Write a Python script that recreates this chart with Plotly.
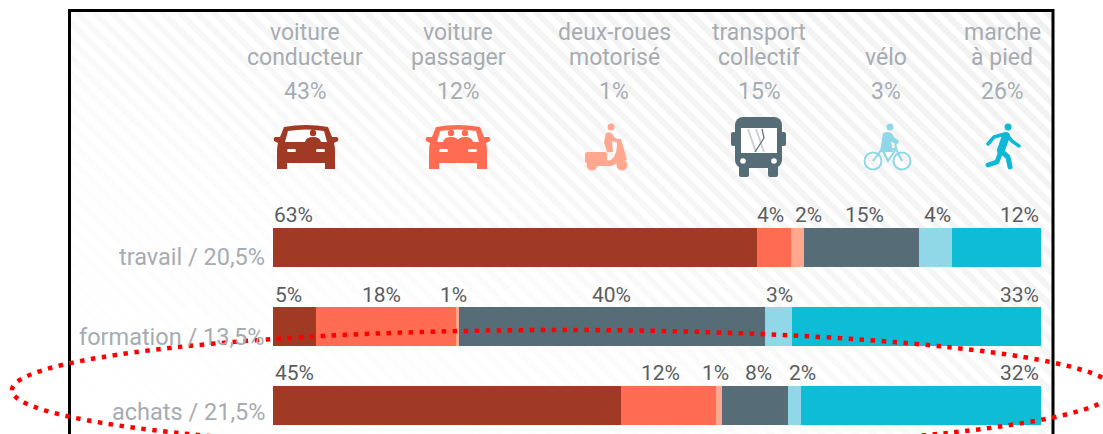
import base64
import plotly.graph_objects as go

W, H = 1103, 434

modes = ["voiture<br>conducteur", "voiture<br>passager", "deux-roues<br>motorisé",
         "transport<br>collectif", "vélo", "marche<br>à pied"]
mode_share = ["43%", "12%", "1%", "15%", "3%", "26%"]
purposes = ["travail / 20,5%", "formation / 13,5%", "achats / 21,5%"]
travail = [63.0, 4.5, 1.7, 14.9, 4.3, 11.6]
formation = [5.6, 18.2, 0.4, 39.9, 3.5, 32.4]
achats = [45.3, 12.4, 0.8, 8.6, 1.7, 31.2]
travail_labels = ["63%", "4%", "2%", "15%", "4%", "12%"]
formation_labels = ["5%", "18%", "1%", "40%", "3%", "33%"]
achats_labels = ["45%", "12%", "1%", "8%", "2%", "32%"]

colors = ["#a03a25", "#ff6c52", "#ffa78f", "#566c77", "#90d8e8", "#0fbcd6"]
series = [travail, formation, achats]
series_labels = [travail_labels, formation_labels, achats_labels]

# layout tuning (pixels in the 1103x434 page)
header_x = [305, 458, 614, 759, 886, 1002]
label_x = [[293, 770, 808, 864, 937, 1019],
           [288, 381, 453, 611, 779, 1019],
           [294, 660, 715, 758, 802, 1019]]
label_y = [215, 295, 373]
row_label_y = [257, 337, 412]


def car(cx, top, color, heads):
    people = "".join(
        f'<circle cx="{hx}" cy="8" r="3.2" fill="{color}"/>'
        f'<path d="M{hx-8},17 Q{hx-7},12 {hx},12 Q{hx+7},12 {hx+8},17Z" fill="{color}"/>'
        for hx in heads)
    return (f'<g transform="translate({cx},{top})">'
            f'<path fill="{color}" d="M-22,2 Q0,-2 22,2 L26,12 H31 Q33,13 32,16 L28,18 Q29,22 29,26 V44 H19 V38 H-19 V44 H-29 V26 Q-29,22 -28,18 L-32,16 Q-33,13 -31,12 H-26 Z"/>'
            f'<path fill="#fff" d="M-18,6 Q0,3 18,6 L21,17 H-21 Z"/>{people}'
            '<rect x="-19" y="24" width="9" height="3" rx="1.5" fill="#fff"/>'
            '<rect x="10" y="24" width="9" height="3" rx="1.5" fill="#fff"/></g>')


def background_svg():
    stripes = "".join(
        f'<path d="M{x},0 L{x+700},700" stroke="#f1f1f1" stroke-width="6"/>'
        for x in range(-700, 1200, 17))
    scooter = ('<g fill="#ffa78f" stroke="none">'
               '<circle cx="611" cy="127" r="3.5"/>'
               '<path d="M606,133 Q612,131 614,137 L620,141 L619,143 L612,141 L613,152 L607,152 L604,142Z"/>'
               '<rect x="585" y="152" width="22" height="11" rx="2"/>'
               '<path d="M617,139 L621,139 L627,160 L619,162 L612,166 L596,166 L596,162 L611,160 Q618,155 617,139Z"/>'
               '<circle cx="592" cy="165" r="5.5"/><circle cx="622" cy="165" r="5.5"/></g>')
    bus = ('<g fill="#566c77">'
           '<rect x="735" y="117" width="47" height="51" rx="8"/>'
           '<rect x="731" y="132" width="5" height="14" rx="2"/><rect x="781" y="132" width="5" height="14" rx="2"/>'
           '<rect x="739" y="165" width="10" height="12" rx="2"/><rect x="768" y="165" width="10" height="12" rx="2"/></g>'
           '<rect x="741" y="128" width="36" height="25" fill="#fff"/>'
           '<path d="M748,129 L756,152 M756,129 L764,152" stroke="#ccd2d6" stroke-width="2" fill="none"/>'
           '<path d="M762,129 L764,138 L755,152" stroke="#566c77" stroke-width="1.2" fill="none"/>'
           '<circle cx="743" cy="161" r="2.8" fill="#fff"/><circle cx="774" cy="161" r="2.8" fill="#fff"/>')
    bike = ('<g fill="none" stroke="#90d8e8" stroke-width="2">'
            '<circle cx="873" cy="161" r="8.5"/><circle cx="902" cy="161" r="8.5"/>'
            '<path d="M873,161 L882,149 L896,149 L902,161 M882,149 L888,161 L896,149 M895,140 L896,149"/></g>'
            '<circle cx="890" cy="127" r="3.5" fill="#90d8e8"/>'
            '<path d="M883,133 Q891,130 894,137 L899,141 L898,144 L891,142 L893,152 L880,152 Z" fill="#90d8e8"/>')
    walker = ('<circle cx="1008" cy="127" r="3.5" fill="#0fb9d5"/>'
              '<g fill="none" stroke="#0fb9d5" stroke-linecap="round" stroke-linejoin="round">'
              '<path stroke-width="8" d="M1006,136 L1001,150"/>'
              '<path stroke-width="3.5" d="M1005,134 L994,137 L988,144 M1006,134 L1012,141 L1019,146"/>'
              '<path stroke-width="5" d="M1001,151 L1008,157 L1010,167 M1001,151 L997,162 L988,165"/></g>')
    svg = (f'<svg xmlns="http://www.w3.org/2000/svg" width="{W}" height="{H}" viewBox="0 0 {W} {H}">'
           '<defs><linearGradient id="f" x1="0" y1="1" x2="1" y2="0">'
           '<stop offset="0" stop-color="#fff" stop-opacity="1"/>'
           '<stop offset="0.3" stop-color="#fff" stop-opacity="0.85"/>'
           '<stop offset="0.65" stop-color="#fff" stop-opacity="0.25"/>'
           '<stop offset="1" stop-color="#fff" stop-opacity="0"/></linearGradient>'
           '<clipPath id="c"><rect x="69" y="10" width="984" height="430"/></clipPath></defs>'
           f'<g clip-path="url(#c)">{stripes}'
           '<rect x="69" y="10" width="984" height="430" fill="url(#f)"/></g>'
           + car(306, 125, colors[0], [7]) + car(458, 125, colors[1], [-7, 7])
           + scooter + bus + bike + walker + '</svg>')
    return "data:image/svg+xml;base64," + base64.b64encode(svg.encode()).decode()


px = lambda v: v / W
py = lambda v: 1 - v / H

fig = go.Figure()
for i, mode in enumerate(modes):
    fig.add_trace(go.Bar(
        y=purposes, x=[s[i] for s in series], orientation="h",
        name=mode.replace("<br>", " "), marker=dict(color=colors[i], line_width=0),
        hoverinfo="name+x"))

annotations = []


def text(s, x, y, size, color, anchor="center"):
    annotations.append(dict(text=s, x=px(x), y=py(y), xref="paper", yref="paper",
                            xanchor=anchor, yanchor="middle", showarrow=False,
                            xshift=0, yshift=0, borderpad=0, borderwidth=0,
                            font=dict(family="Roboto", size=size, color=color)))


GREY = "#a6acb2"
DARK = "#5a5d60"
for name, share, x in zip(modes, mode_share, header_x):
    lines = name.split("<br>")
    if len(lines) == 1:
        lines = ["", lines[0]]
    if lines[0]:
        text(lines[0], x, 32, 23, GREY)
    text(lines[1], x, 58, 23, GREY)
    text(share, x, 91, 23, GREY)

for name, y in zip(purposes, row_label_y):
    text(name, 265, y, 23.5, GREY, "right")

for labels, xs, y in zip(series_labels, label_x, label_y):
    for s, x in zip(labels, xs):
        text(s, x, y, 21, DARK)

shapes = [
    dict(type="rect", xref="paper", yref="paper", x0=px(69.5), x1=px(1053), y0=py(450), y1=py(10.5),
         line=dict(color="#000000", width=3), fillcolor="rgba(0,0,0,0)", layer="above"),
    dict(type="circle", xref="paper", yref="paper", x0=px(12), x1=px(1114), y0=py(450), y1=py(330),
         line=dict(color="#ff0000", width=4.5, dash="4.5px,6.5px"), layer="above"),
]

fig.update_layout(
    width=W, height=H, autosize=False, barmode="stack", bargap=0.5, showlegend=False,
    margin=dict(l=0, r=0, t=0, b=0), paper_bgcolor="#ffffff", plot_bgcolor="rgba(0,0,0,0)",
    xaxis=dict(domain=[273 / W, 1041 / W], range=[0, 100], visible=False, fixedrange=True),
    yaxis=dict(domain=[0, 1 - 208 / H], range=[2.36, -0.5], visible=False, fixedrange=True,
               type="category", categoryorder="array", categoryarray=purposes),
    annotations=annotations, shapes=shapes,
    images=[dict(source=background_svg(), xref="paper", yref="paper", x=0, y=1, sizex=1, sizey=1,
                 xanchor="left", yanchor="top", sizing="stretch", layer="below")],
)
fig.write_html("out.html", config={"displayModeBar": False},
               post_script="document.body.style.margin='0';document.body.style.overflow='hidden';")
